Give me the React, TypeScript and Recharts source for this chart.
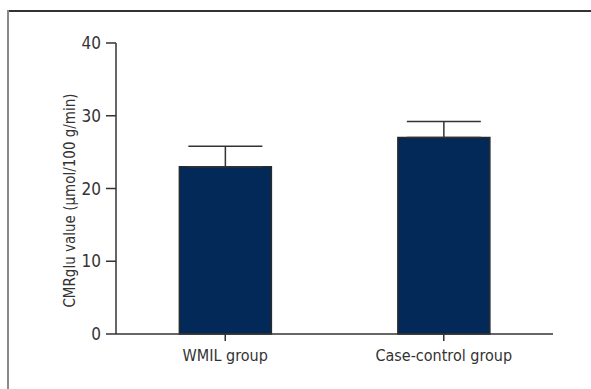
import { ComposedChart, Bar, XAxis, YAxis, ErrorBar } from 'recharts';

const groups = ['WMIL group', 'Case-control group'];
const cmrGlu = [23, 27];
const sdUpper = [2.8, 2.2];
const yTicks = [0, 10, 20, 30, 40];

const data = groups.map((group, i) => ({
  group,
  value: cmrGlu[i],
  err: [0, sdUpper[i]],
}));

const FONT = '"Liberation Sans Narrow", "DejaVu Sans Condensed", "Roboto", sans-serif';
const INK = '#333333';

export default function App() {
  return (
    <div style={{ position: 'fixed', left: 0, top: 0, width: 591, height: 389, background: '#fff' }}>
      <div style={{ position: 'absolute', left: 7, top: 10, width: 584, height: 2, background: '#333' }} />
      <div style={{ position: 'absolute', left: 7, top: 10, width: 2, height: 379, background: '#8a8a8a' }} />
      <div style={{ position: 'absolute', left: 0, top: 0 }}>
        <ComposedChart
          width={591}
          height={389}
          data={data}
          margin={{ top: 43, right: 38, bottom: 25, left: 0 }}
          barCategoryGap="29%"
        >
          <XAxis
            dataKey="group"
            height={30}
            axisLine={{ stroke: INK, strokeWidth: 1.5 }}
            tickLine={{ stroke: INK, strokeWidth: 1.5 }}
            tickSize={7}
            tickMargin={9}
            tick={{ fill: INK, fontSize: 16, fontFamily: FONT }}
          />
          <YAxis
            width={116}
            domain={[0, 40]}
            ticks={yTicks}
            interval={0}
            axisLine={{ stroke: INK, strokeWidth: 1.5 }}
            tickLine={{ stroke: INK, strokeWidth: 1.5 }}
            tickSize={10}
            tickMargin={5}
            tick={{ fill: INK, fontSize: 17, fontFamily: FONT }}
            label={{
              value: 'CMRglu value (μmol/100 g/min)',
              angle: -90,
              position: 'insideLeft',
              offset: 0,
              dx: 70,
              dy: 12,
              style: { fill: INK, fontSize: 15, fontFamily: FONT, textAnchor: 'middle' },
            }}
          />
          <Bar dataKey="value" fill="#022957" stroke="#2a2a2a" strokeWidth={1.5} isAnimationActive={false}>
            <ErrorBar dataKey="err" width={37} stroke={INK} strokeWidth={1.5} direction="y" />
          </Bar>
        </ComposedChart>
      </div>
    </div>
  );
}
